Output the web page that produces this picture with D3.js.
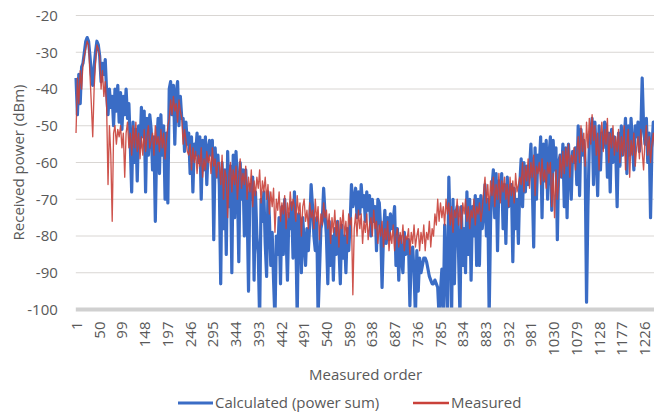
<!DOCTYPE html>
<html>
<head>
<meta charset="utf-8">
<script src="https://cdn.jsdelivr.net/npm/d3@7"></script>
<style>
  html, body { margin: 0; padding: 0; background: #fff; }
  svg { display: block; }
  text { font-family: "Open Sans", "DejaVu Sans", sans-serif; fill: #595959; }
</style>
</head>
<body>
<svg id="chart" width="654" height="419"></svg>
<script>
// Received power per measured order, sampled every 3rd order (1, 4, 7, ...)
const orderCount = 1250;
const sampleOrders = d3.range(1, orderCount + 1, 3);

const calculated = [
  -37,-47,-36,-44,-34,
  -33,-30,-27,-26,-27,
  -31,-36,-39,-34,
  -30,-27,-28,-31,
  -38,-33,-36,-32,
  -41,-47,-40,-45,-42,
  -50,-40,-46,-39,-49,-41,-51,-42,-47,-40,-48,
  -44,-55,-68,
  -49,-60,-51,-65,-50,-56,-45,
  -53,-46,-68,-48,-58,-47,
  -51,-62,-53,-76,-55,
  -48,-63,-47,-58,-50,-70,-52,
  -71,
  -40,-38,-47,-39,-55,-41,-38,-50,-42,-48,
  -48,-57,-49,-55,
  -52,-63,-53,-68,-55,-58,-52,
  -60,-53,-70,-54,-62,-53,-66,-56,-54,
  -58,-54,-81,-56,-64,-58,
  -66,-93,-60,-78,-62,-85,-57,-72,-61,-90,
  -58,-75,-57,-66,-87,-60,-70,-62,
  -80,-62,-72,-95,-66,-70,-64,
  -92,-68,-80,-85,-103,-70,-76,-68,-82,
  -91,-68,-75,-88,
  -79,-92,-103,-80,-85,
  -75,-93,-72,-85,-70,-80,-92,-74,-78,-71,-86,
  -68,-80,-102,-74,
  -76,-90,-75,-82,-88,-78,-84,-77,
  -66,-72,-80,
  -84,-75,-102,-90,-78,-76,
  -67,-74,-80,
  -93,-76,-88,-80,-92,-78,-85,-76,-83,-93,-77,-86,-80,-90,-78,-84,-77,
  -66,-72,-70,
  -67,-75,-68,-74,-66,-72,-69,-76,-68,-73,
  -69,-80,-70,-76,-72,-84,-70,
  -71,-78,-94,-80,-73,
  -82,-75,-81,-74,-78,-76,-72,
  -88,-78,-92,-80,-86,-90,-79,-85,-81,
  -81,-99,-85,-83,-90,
  -102,-84,-95,-86,-90,
  -88,-86,-86,-87,-89,-91,-92,
  -93,-93,-92,-93,-94,-102,-95,
  -89,-102,-77,-90,
  -102,-64,-80,-101,
  -70,-93,-74,-72,-85,
  -102,-72,-88,-78,-90,
  -68,-85,-70,-92,-72,-80,-69,-88,
  -70,-88,-69,-78,-74,
  -66,-80,-70,-102,-76,-67,
  -62,-75,-63,-84,-65,-70,-63,-78,-66,-82,-64,-72,-68,
  -66,-87,-67,-78,-70,-82,-66,
  -59,-72,-60,-68,-61,-66,-62,
  -55,-66,-83,-56,-70,-58,-62,
  -53,-75,-55,-65,-54,-70,-58,
  -53,-73,-54,-62,-56,
  -81,-60,-58,-64,
  -55,-72,-56,-75,-55,-62,-70,-57,-60,-56,-66,
  -50,-69,-51,-58,-54,
  -60,-98,-72,-55,
  -52,-48,-66,-49,-58,-69,-50,-62,-52,-56,-49,
  -50,-64,-52,-68,-51,-60,-53,-57,-72,-52,-61,-50,-58,-54,
  -48,-63,-50,-58,-48,-55,-62,-50,-53,-49,-57,
  -52,-37,-50,
  -55,-48,-60,-52,-75,-56,-49,-52
];

const measured = [
  -52,-37,-44,-35,-40,
  -33,-31,-29,-27,-28,
  -36,-44,-53,-40,
  -33,-28,-29,-31,
  -40,-35,-42,-38,
  -45,-66,-50,-58,-76,
  -52,-50,-55,-51,-53,-50,-56,-52,-64,-52,-49,
  -56,-52,-58,-50,-56,-49,-57,-52,-59,-53,
  -58,-51,-57,-53,-50,-56,-54,-52,-58,-50,
  -55,-53,-57,-51,-56,-52,-59,-54,
  -50,-48,-43,-47,-42,-46,-44,-49,-43,-46,-48,
  -55,-51,-54,-57,
  -58,-55,-62,-56,-60,-57,-63,-58,-61,-56,-64,-59,-62,-57,-60,-58,-63,-56,-61,-59,-64,-60,
  -60,-66,-58,-70,-62,-64,-75,-63,-60,-68,-62,-66,-61,-70,-64,-59,-67,-63,
  -66,-61,-70,-64,-68,-62,-72,-65,-69,-64,-67,-62,-71,-65,-68,-64,
  -70,-66,-74,-68,-72,-67,-79,-70,-73,-68,-76,-71,-74,-69,-78,-71,-75,-68,-73,-70,
  -72,-76,-69,-74,-71,-80,-72,-70,-76,-73,-78,-71,-75,-73,-78,-70,-76,-72,-81,-74,-77,-71,-75,-73,
  -78,-74,-82,-75,-79,-73,-80,-76,-83,-75,-78,-73,-80,-76,-82,-74,-77,
  -75,-96,-78,
  -74,-80,-73,-78,-74,-82,-76,-79,-74,-81,-77,-75,-80,-73,-78,-76,-82,-77,
  -80,-76,-83,-78,-81,-76,-84,-79,-82,-77,-84,-80,-78,-83,-79,
  -82,-77,-84,-80,-81,-78,-85,-79,-82,-77,-83,-80,-78,-84,-79,
  -82,-77,-84,-79,-81,-76,-83,
  -78,-80,-74,-77,-70,-76,-71,-75,-72,-77,-70,
  -74,-71,-77,-72,-79,-73,-75,-70,-77,-72,-78,-71,-74,-70,-76,-72,-78,-73,-75,-70,-77,-72,-74,-71,-76,-73,
  -68,-64,-71,-66,-73,-65,-69,-64,-72,-66,-70,-63,-71,-65,-68,-64,-70,-66,-72,-64,-69,-65,-71,-63,-68,-66,-64,
  -66,-60,-68,-61,-65,-59,-67,-60,-64,-58,-69,-61,-63,-60,-66,-59,-65,-62,-67,-60,-63,
  -60,-72,-63,-75,-62,-70,-66,-58,-64,
  -57,-63,-56,-61,-55,-64,-58,-60,-56,-62,-57,
  -53,-60,-50,-57,-52,-61,-49,-56,-48,-55,-47,-54,-50,-58,-52,-62,-53,-49,-57,-51,-55,-48,-60,-52,-56,-50,-58,
  -53,-57,-51,-60,-53,-58,-50,-62,-55,-51,-64,-54,-58,-52,-61,-56,-53,-59,-51,-57,-62,-54,-50,-58,-53,-60,-55,-52,-56
];

const xTickLabels = [1,50,99,148,197,246,295,344,393,442,491,540,589,638,687,736,785,834,883,932,981,1030,1079,1128,1177,1226];
const yTicks = [-100,-90,-80,-70,-60,-50,-40,-30,-20];

const seriesNames = ["Calculated (power sum)", "Measured"];
const seriesColors = ["#3a6cc5", "#c9413a"];

const svg = d3.select("#chart");
const plot = { left: 75.8, right: 655.4, top: 15.5, bottom: 309.5 };

// Category axis: each order sits in the centre of its band
const x = d3.scaleLinear().domain([0.5, orderCount + 0.5]).range([plot.left, plot.right]);
const y = d3.scaleLinear().domain([-100, -20]).range([plot.bottom, plot.top]);

svg.append("defs").append("clipPath").attr("id", "plotClip")
  .append("rect")
  .attr("x", plot.left - 4).attr("y", plot.top - 4)
  .attr("width", plot.right - plot.left + 8).attr("height", plot.bottom - plot.top + 4);

// Horizontal gridlines
svg.append("g")
  .selectAll("line")
  .data(yTicks.filter(d => d > -100))
  .join("line")
  .attr("x1", plot.left).attr("x2", 654)
  .attr("y1", d => y(d)).attr("y2", d => y(d))
  .attr("stroke", "#d9d6d3").attr("stroke-width", 1);

// Y tick labels
const yAxis = d3.axisLeft(y).tickValues(yTicks).tickSize(0).tickPadding(18)
  .tickFormat(d => String(d));
const gy = svg.append("g").attr("transform", `translate(${plot.left},0)`).call(yAxis);
gy.select(".domain").remove();
gy.selectAll("text").style("font-size", "15px").attr("fill", "#595959")
  .style("font-family", '"Open Sans", sans-serif');

// Lines
const line = (vals) => d3.line()
  .x((d, i) => x(sampleOrders[i]))
  .y(d => y(d))(vals);

const lines = svg.append("g").attr("clip-path", "url(#plotClip)");
lines.append("path")
  .attr("d", line(calculated))
  .attr("fill", "none").attr("stroke", seriesColors[0])
  .attr("stroke-width", 3.2).attr("stroke-linejoin", "round");
lines.append("path")
  .attr("d", line(measured))
  .attr("fill", "none").attr("stroke", seriesColors[1])
  .attr("stroke-width", 1.35).attr("stroke-linejoin", "round")
  .attr("stroke-opacity", 0.9);

// Category axis line at -100
svg.append("line")
  .attr("x1", plot.left).attr("x2", 654)
  .attr("y1", y(-100)).attr("y2", y(-100))
  .attr("stroke", "#d0d0d0").attr("stroke-width", 4);

// X tick labels, rotated
svg.append("g")
  .selectAll("text")
  .data(xTickLabels)
  .join("text")
  .attr("transform", d => `translate(${x(d)},${plot.bottom + 12}) rotate(-90)`)
  .attr("text-anchor", "end")
  .attr("dominant-baseline", "central")
  .style("font-size", "15px")
  .text(d => d);

// Axis titles
svg.append("text")
  .attr("x", (plot.left + plot.right) / 2).attr("y", 380)
  .attr("text-anchor", "middle")
  .style("font-size", "15px")
  .text("Measured order");

svg.append("text")
  .attr("transform", `translate(24,${(plot.top + plot.bottom) / 2}) rotate(-90)`)
  .attr("text-anchor", "middle")
  .style("font-size", "15px")
  .text("Received power (dBm)");

// Legend
const legend = svg.append("g");
const legendItems = [
  { x1: 178, x2: 213, tx: 215, width: 3 },
  { x1: 413, x2: 449, tx: 451, width: 2.5 }
];
legendItems.forEach((it, i) => {
  legend.append("line")
    .attr("x1", it.x1).attr("x2", it.x2)
    .attr("y1", 403).attr("y2", 403)
    .attr("stroke", seriesColors[i]).attr("stroke-width", it.width);
  legend.append("text")
    .attr("x", it.tx).attr("y", 408)
    .style("font-size", "15px")
    .text(seriesNames[i]);
});
</script>
</body>
</html>
